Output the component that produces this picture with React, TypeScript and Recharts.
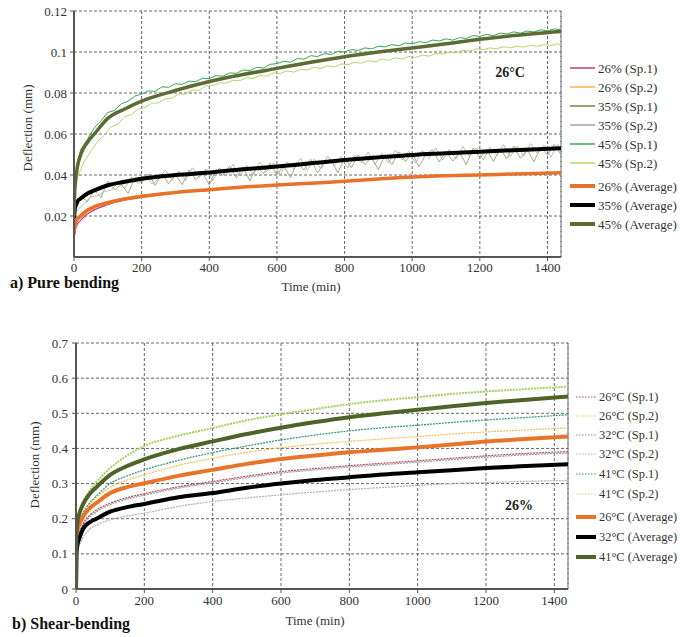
import React from 'react';
import { LineChart, Line, XAxis, YAxis, CartesianGrid, ReferenceLine } from 'recharts';

const FONT = "'Times New Roman', 'Liberation Serif', serif";

// ---------- a) Pure bending ----------
const TOP_T = [0, 2, 5, 10, 20, 40, 60, 100, 150, 200, 300, 400, 500, 600, 700, 800, 900, 1000, 1100, 1200, 1300, 1440];
const NOISY_T = [0, 2, 5, 10, 20, 40, 60, 80, 100, 120, 140, 160, 180, 200, 220, 240, 260, 280, 300, 320, 340, 360, 380, 400,
  420, 440, 460, 480, 500, 520, 540, 560, 580, 600, 620, 640, 660, 680, 700, 720, 740, 760, 780, 800, 820, 840, 860, 880, 900,
  920, 940, 960, 980, 1000, 1020, 1040, 1060, 1080, 1100, 1120, 1140, 1160, 1180, 1200, 1220, 1240, 1260, 1280, 1300, 1320,
  1340, 1360, 1380, 1400, 1420, 1440];
const NOISY_T2 = [0, 2, 5, 10, 30, 50, 70, 90, 110, 130, 150, 170, 190, 210, 230, 250, 270, 290, 310, 330, 350, 370, 390, 410,
  430, 450, 470, 490, 510, 530, 550, 570, 590, 610, 630, 650, 670, 690, 710, 730, 750, 770, 790, 810, 830, 850, 870, 890, 910,
  930, 950, 970, 990, 1010, 1030, 1050, 1070, 1090, 1110, 1130, 1150, 1170, 1190, 1210, 1230, 1250, 1270, 1290, 1310, 1330,
  1350, 1370, 1390, 1410, 1430, 1440];

const P26_SP1 = [0.008, 0.012, 0.014, 0.016, 0.018, 0.021, 0.023, 0.0255, 0.0278, 0.0292, 0.0312, 0.0326, 0.034, 0.035, 0.036, 0.0368, 0.0378, 0.0388, 0.0394, 0.0399, 0.0404, 0.041];
const P26_SP2 = [0.012, 0.016, 0.018, 0.0195, 0.021, 0.0235, 0.025, 0.027, 0.0288, 0.03, 0.0318, 0.033, 0.0343, 0.0353, 0.0362, 0.0371, 0.0382, 0.0392, 0.0398, 0.0402, 0.0407, 0.0413];
const P26_AVG = [0.011, 0.015, 0.017, 0.0185, 0.02, 0.0228, 0.0245, 0.0265, 0.0283, 0.0296, 0.0315, 0.0328, 0.0341, 0.0351, 0.036, 0.0369, 0.038, 0.039, 0.0396, 0.04, 0.0405, 0.0411];
const P35_AVG = [0.019, 0.023, 0.025, 0.027, 0.0286, 0.031, 0.0325, 0.035, 0.0367, 0.0382, 0.04, 0.0412, 0.0428, 0.0441, 0.0457, 0.0473, 0.0486, 0.0498, 0.0506, 0.0514, 0.0521, 0.053];
const P45_AVG = [0.02, 0.032, 0.038, 0.044, 0.05, 0.056, 0.06, 0.0676, 0.0722, 0.076, 0.0812, 0.0856, 0.089, 0.092, 0.095, 0.0977, 0.1, 0.102, 0.104, 0.1062, 0.108, 0.11];

const P35_SP1 = [0.016, 0.021, 0.024, 0.026, 0.0296, 0.027, 0.0325, 0.029, 0.037, 0.0327, 0.0354, 0.0311, 0.0387, 0.0362, 0.0406, 0.035,
  0.0404, 0.0357, 0.04, 0.0353, 0.0425, 0.0377, 0.041, 0.0352, 0.0425, 0.0398, 0.0442, 0.0385, 0.0438, 0.0371, 0.0443, 0.0406,
  0.0458, 0.0401, 0.0444, 0.0387, 0.0461, 0.0424, 0.0477, 0.041, 0.0463, 0.0477, 0.041, 0.0483, 0.0436, 0.0498, 0.0451, 0.0483,
  0.0426, 0.0498, 0.0451, 0.0513, 0.0466, 0.0508, 0.044, 0.0501, 0.0523, 0.0464, 0.0516, 0.0468, 0.0509, 0.0451, 0.0532, 0.0484,
  0.0525, 0.0467, 0.0528, 0.048, 0.0541, 0.0482, 0.0523, 0.0465, 0.0536, 0.0497, 0.0549, 0.05];
const P35_SP2 = [0.014, 0.018, 0.021, 0.023, 0.026, 0.0295, 0.0298, 0.032, 0.0325, 0.0362, 0.0334, 0.0391, 0.0357, 0.0402, 0.0356, 0.038,
  0.0424, 0.0377, 0.042, 0.0373, 0.0435, 0.0387, 0.043, 0.0372, 0.0435, 0.0398, 0.0452, 0.0395, 0.0448, 0.0401, 0.0463, 0.0416,
  0.0458, 0.0401, 0.0464, 0.0427, 0.0481, 0.0424, 0.0477, 0.043, 0.0493, 0.0447, 0.049, 0.0433, 0.0496, 0.0458, 0.0511, 0.0453,
  0.0506, 0.0458, 0.0521, 0.0473, 0.0516, 0.0458, 0.052, 0.0481, 0.0533, 0.0474, 0.0526, 0.0478, 0.0539, 0.0491, 0.0532, 0.0474,
  0.0535, 0.0497, 0.0548, 0.049, 0.0541, 0.0492, 0.0553, 0.0505, 0.0546, 0.0487, 0.0549, 0.051];
const P45_SP1 = [0.02, 0.033, 0.04, 0.046, 0.0525, 0.0575, 0.063, 0.0665, 0.0705, 0.0715, 0.0748, 0.076, 0.0785, 0.0795, 0.081, 0.0808,
  0.083, 0.0828, 0.0845, 0.0842, 0.0858, 0.0855, 0.0872, 0.087, 0.0885, 0.0882, 0.0898, 0.0896, 0.0912, 0.091, 0.0925, 0.0922,
  0.094, 0.0943, 0.0955, 0.095, 0.0968, 0.0965, 0.0982, 0.0978, 0.0992, 0.0988, 0.1003, 0.1, 0.1012, 0.1008, 0.102, 0.1015,
  0.1028, 0.1025, 0.1036, 0.103, 0.1044, 0.104, 0.105, 0.1046, 0.1058, 0.1054, 0.1064, 0.1058, 0.107, 0.1066, 0.108, 0.1076,
  0.1086, 0.108, 0.1092, 0.1088, 0.1098, 0.1092, 0.1102, 0.1098, 0.1108, 0.1103, 0.1113, 0.1108];
const P45_SP2 = [0.015, 0.026, 0.032, 0.039, 0.0465, 0.0515, 0.0565, 0.0595, 0.0635, 0.0648, 0.0685, 0.0695, 0.0722, 0.073, 0.075, 0.0752,
  0.0772, 0.0775, 0.0795, 0.0795, 0.0815, 0.0812, 0.0835, 0.0835, 0.085, 0.0848, 0.0862, 0.086, 0.0875, 0.087, 0.0885, 0.0882,
  0.0898, 0.0895, 0.0908, 0.0902, 0.0915, 0.0912, 0.0925, 0.092, 0.0933, 0.0928, 0.0942, 0.0938, 0.095, 0.0945, 0.0958, 0.0952,
  0.0965, 0.096, 0.0972, 0.0966, 0.0978, 0.0973, 0.0985, 0.098, 0.0993, 0.099, 0.1, 0.0996, 0.1008, 0.1004, 0.1016, 0.1011,
  0.102, 0.1016, 0.1026, 0.102, 0.1028, 0.1024, 0.1033, 0.1028, 0.1036, 0.1032, 0.104, 0.1036];

const TOP_Y_TICKS = [0.02, 0.04, 0.06, 0.08, 0.1, 0.12];
const TOP_LEGEND = ['26% (Sp.1)', '26% (Sp.2)', '35% (Sp.1)', '35% (Sp.2)', '45% (Sp.1)', '45% (Sp.2)', '26% (Average)', '35% (Average)', '45% (Average)'];

// ---------- b) Shear-bending ----------
const BOT_T = [0, 1, 5, 10, 20, 40, 60, 100, 150, 200, 300, 400, 500, 600, 700, 800, 900, 1000, 1100, 1200, 1300, 1440];
const B26_SP1 = [0, 0.1, 0.14, 0.16, 0.185, 0.21, 0.225, 0.244, 0.26, 0.271, 0.291, 0.306, 0.321, 0.334, 0.343, 0.351, 0.358, 0.365, 0.372, 0.379, 0.385, 0.391];
const B26_SP2 = [0, 0.12, 0.165, 0.185, 0.21, 0.24, 0.26, 0.29, 0.31, 0.325, 0.352, 0.372, 0.389, 0.402, 0.412, 0.42, 0.427, 0.434, 0.441, 0.447, 0.452, 0.458];
const B32_SP1 = [0, 0.1, 0.135, 0.155, 0.18, 0.205, 0.22, 0.24, 0.256, 0.267, 0.287, 0.302, 0.317, 0.33, 0.339, 0.347, 0.354, 0.361, 0.368, 0.375, 0.381, 0.387];
const B32_SP2 = [0, 0.08, 0.11, 0.125, 0.145, 0.17, 0.182, 0.197, 0.208, 0.216, 0.235, 0.249, 0.259, 0.268, 0.276, 0.283, 0.289, 0.295, 0.3, 0.303, 0.306, 0.309];
const B41_SP1 = [0, 0.12, 0.165, 0.19, 0.215, 0.245, 0.265, 0.3, 0.322, 0.339, 0.366, 0.388, 0.407, 0.424, 0.438, 0.45, 0.459, 0.466, 0.474, 0.481, 0.487, 0.496];
const B41_SP2 = [0, 0.14, 0.19, 0.215, 0.245, 0.28, 0.305, 0.344, 0.38, 0.407, 0.436, 0.458, 0.48, 0.497, 0.512, 0.526, 0.537, 0.546, 0.555, 0.562, 0.568, 0.576];
const B26_AVG = [0, 0.13, 0.17, 0.185, 0.205, 0.23, 0.245, 0.273, 0.29, 0.301, 0.322, 0.339, 0.356, 0.37, 0.38, 0.389, 0.396, 0.403, 0.411, 0.42, 0.426, 0.434];
const B32_AVG = [0, 0.1, 0.13, 0.145, 0.17, 0.19, 0.2, 0.22, 0.233, 0.242, 0.261, 0.273, 0.288, 0.3, 0.31, 0.318, 0.326, 0.332, 0.338, 0.344, 0.349, 0.355];
const B41_AVG = [0, 0.15, 0.195, 0.215, 0.24, 0.27, 0.29, 0.325, 0.35, 0.369, 0.398, 0.42, 0.441, 0.459, 0.475, 0.489, 0.5, 0.51, 0.52, 0.529, 0.537, 0.548];

const BOT_Y_TICKS = [0, 0.1, 0.2, 0.3, 0.4, 0.5, 0.6, 0.7];
const BOT_LEGEND = ['26°C (Sp.1)', '26°C (Sp.2)', '32°C (Sp.1)', '32°C (Sp.2)', '41°C (Sp.1)', '41°C (Sp.2)', '26°C (Average)', '32°C (Average)', '41°C (Average)'];

const X_TICKS = [0, 200, 400, 600, 800, 1000, 1200, 1400];

type S = { key: string; t: number[]; v: number[] };
function buildRows(series: S[]) {
  const m = new Map<number, Record<string, number>>();
  for (const s of series) {
    s.t.forEach((t, i) => {
      const r = m.get(t) ?? { t };
      r[s.key] = s.v[i];
      m.set(t, r);
    });
  }
  return [...m.values()].sort((a, b) => a.t - b.t);
}

const topRows = buildRows([
  { key: 'p26s1', t: TOP_T, v: P26_SP1 },
  { key: 'p26s2', t: TOP_T, v: P26_SP2 },
  { key: 'p35s1', t: NOISY_T, v: P35_SP1 },
  { key: 'p35s2', t: NOISY_T2, v: P35_SP2 },
  { key: 'p45s1', t: NOISY_T, v: P45_SP1 },
  { key: 'p45s2', t: NOISY_T2, v: P45_SP2 },
  { key: 'p26a', t: TOP_T, v: P26_AVG },
  { key: 'p35a', t: TOP_T, v: P35_AVG },
  { key: 'p45a', t: TOP_T, v: P45_AVG },
]);

const botRows = buildRows([
  { key: 'b26s1', t: BOT_T, v: B26_SP1 },
  { key: 'b26s2', t: BOT_T, v: B26_SP2 },
  { key: 'b32s1', t: BOT_T, v: B32_SP1 },
  { key: 'b32s2', t: BOT_T, v: B32_SP2 },
  { key: 'b41s1', t: BOT_T, v: B41_SP1 },
  { key: 'b41s2', t: BOT_T, v: B41_SP2 },
  { key: 'b26a', t: BOT_T, v: B26_AVG },
  { key: 'b32a', t: BOT_T, v: B32_AVG },
  { key: 'b41a', t: BOT_T, v: B41_AVG },
]);

const TOP_STYLE = [
  { key: 'p26s1', color: '#c2426b', w: 1.2, type: 'monotone' },
  { key: 'p26s2', color: '#f4b24a', w: 1.2, type: 'monotone' },
  { key: 'p35s1', color: '#9a9160', w: 0.8, type: 'linear' },
  { key: 'p35s2', color: '#aaaaaa', w: 0.8, type: 'linear' },
  { key: 'p45s1', color: '#35a852', w: 1, type: 'linear' },
  { key: 'p45s2', color: '#b3d66b', w: 1, type: 'linear' },
  { key: 'p26a', color: '#e9722a', w: 3.5, type: 'monotone' },
  { key: 'p35a', color: '#000000', w: 4, type: 'monotone' },
  { key: 'p45a', color: '#5b6b32', w: 3.5, type: 'monotone' },
];

const BOT_STYLE = [
  { key: 'b32s1', color: '#8b99a8', w: 1.2, type: 'monotone', dash: '2 1' },
  { key: 'b26s1', color: '#c0464e', w: 1.2, type: 'monotone', dash: '2 1' },
  { key: 'b26s2', color: '#f2c14e', w: 1.2, type: 'monotone', dash: '2 1' },
  { key: 'b32s2', color: '#b0b0b0', w: 1.2, type: 'monotone', dash: '2 1' },
  { key: 'b41s1', color: '#3a9c78', w: 1.3, type: 'monotone', dash: '2 1' },
  { key: 'b41s2', color: '#a5cf5f', w: 2, type: 'monotone', dash: '2 1' },
  { key: 'b26a', color: '#e8742a', w: 4, type: 'monotone' },
  { key: 'b32a', color: '#000000', w: 4, type: 'monotone' },
  { key: 'b41a', color: '#4f6328', w: 4, type: 'monotone' },
];

const TOP_LEG_COLORS = ['#c2426b', '#f4b24a', '#7f7d45', '#a0a0b0', '#35a852', '#b3d66b', '#e9722a', '#000000', '#5b6b32'];
const BOT_LEG_COLORS = ['#c0464e', '#f2c14e', '#7f8fa0', '#b0b0b0', '#3a9c78', '#c8d890', '#e8742a', '#000000', '#4f6328'];

const fmt = (v: number) => String(Number(v.toFixed(2)));
const tickStyle = { fontFamily: FONT, fontSize: 13, fill: '#333' };
const axisLine = { stroke: '#555', strokeWidth: 2 };

function Chart({ rows, styles, yDomain, yTicks, height, top, left, right, xAxisH, yMargin, xMargin }: any) {
  return (
    <LineChart width={680} height={height} data={rows} margin={{ top, right, bottom: 0, left: 0 }} style={{ fontFamily: FONT }}>
      <CartesianGrid stroke="#666" strokeDasharray="3 2" strokeWidth={1} />
      <XAxis type="number" dataKey="t" domain={[0, 1440]} ticks={X_TICKS} allowDataOverflow
        tick={tickStyle} axisLine={axisLine} tickLine={{ stroke: '#555' }} tickSize={4} tickMargin={xMargin} height={xAxisH} />
      <YAxis type="number" domain={yDomain} ticks={yTicks} allowDataOverflow tickFormatter={fmt}
        tick={tickStyle} axisLine={axisLine} tickLine={{ stroke: '#555' }} tickSize={4} tickMargin={yMargin} width={left} />
      <ReferenceLine x={1440} stroke="#666" strokeDasharray="3 2" />
      {styles.map((s: any) => (
        <Line key={s.key} dataKey={s.key} stroke={s.color} strokeWidth={s.w} type={s.type}
          strokeDasharray={s.dash} dot={false} activeDot={false} connectNulls isAnimationActive={false} />
      ))}
    </LineChart>
  );
}

const TOP_LEG_Y = [68, 87, 106, 125, 144, 163, 186, 205, 224];
const BOT_LEG_Y = [397, 416, 435, 454, 474, 494, 517, 537, 557];

const txt = { fontFamily: FONT };

export default function App() {
  return (
    <div style={{ position: 'absolute', left: 0, top: 0, width: 680, height: 637, background: '#fff', overflow: 'hidden', fontFamily: FONT }}>
      <div style={{ position: 'absolute', left: 0, top: 0 }}>
        <Chart rows={topRows} styles={TOP_STYLE} yDomain={[0, 0.12]} yTicks={TOP_Y_TICKS}
          height={300} top={11} left={74} right={119} xAxisH={43} yMargin={3} xMargin={2} />
      </div>
      <div style={{ position: 'absolute', left: 0, top: 320 }}>
        <Chart rows={botRows} styles={BOT_STYLE} yDomain={[0, 0.7]} yTicks={BOT_Y_TICKS}
          height={300} top={23} left={76} right={112} xAxisH={31} yMargin={4} xMargin={3} />
      </div>
      <svg width={680} height={637} style={{ position: 'absolute', left: 0, top: 0, pointerEvents: 'none', fontFamily: FONT }}>
        {TOP_LEGEND.map((name, i) => (
          <g key={name}>
            <line x1={570} x2={595} y1={TOP_LEG_Y[i]} y2={TOP_LEG_Y[i]} stroke={TOP_LEG_COLORS[i]} strokeWidth={i >= 6 ? 4 : 1.5} />
            <text style={txt} x={598} y={TOP_LEG_Y[i]} dominantBaseline="central" fontSize={13} fill="#333">{name}</text>
          </g>
        ))}
        {BOT_LEGEND.map((name, i) => (
          <g key={name}>
            <line x1={576} x2={596} y1={BOT_LEG_Y[i]} y2={BOT_LEG_Y[i]} stroke={BOT_LEG_COLORS[i]}
              strokeWidth={i >= 6 ? 4 : 1.2} strokeDasharray={i >= 6 ? undefined : '1.5 1.5'} />
            <text style={txt} x={599} y={BOT_LEG_Y[i]} dominantBaseline="central" fontSize={12.4} fill="#333">{name}</text>
          </g>
        ))}
        <text style={txt} x={510} y={72} textAnchor="middle" dominantBaseline="central" fontSize={14} fontWeight="bold" fill="#222">26°C</text>
        <text style={txt} x={519} y={505} textAnchor="middle" dominantBaseline="central" fontSize={14} fontWeight="bold" fill="#222">26%</text>
        <text style={txt} x={311} y={286} textAnchor="middle" dominantBaseline="central" fontSize={13} fill="#333">Time (min)</text>
        <text style={txt} x={315} y={620} textAnchor="middle" dominantBaseline="central" fontSize={13} fill="#333">Time (min)</text>
        <text style={txt} transform="translate(27,128) rotate(-90)" textAnchor="middle" dominantBaseline="central" fontSize={13} fill="#333">Deflection (mm)</text>
        <text style={txt} transform="translate(34,465) rotate(-90)" textAnchor="middle" dominantBaseline="central" fontSize={13} fill="#333">Deflection (mm)</text>
        <text style={txt} x={10} y={288} fontSize={16} fontWeight="bold" fill="#111">a) Pure bending</text>
        <text style={txt} x={12} y={629} fontSize={16} fontWeight="bold" fill="#111">b) Shear-bending</text>
      </svg>
    </div>
  );
}
